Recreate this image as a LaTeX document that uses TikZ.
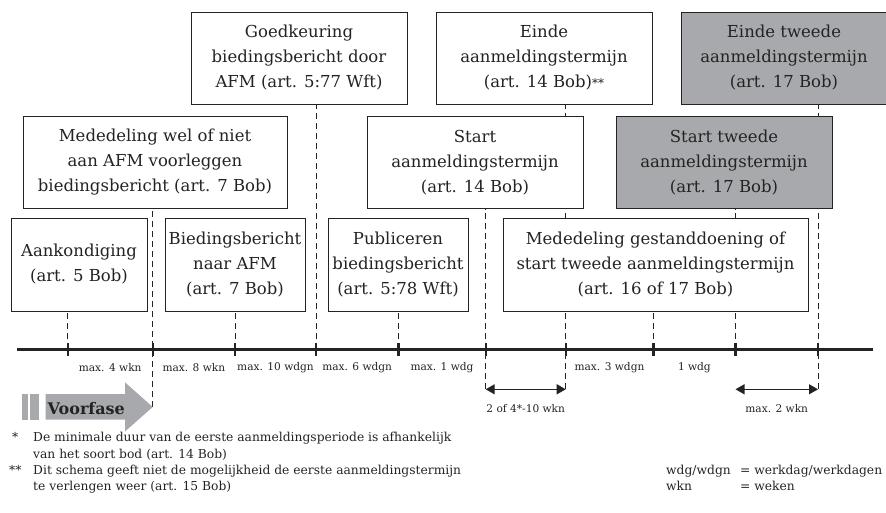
\documentclass[tikz,border=0pt]{standalone}
\usepackage{fontspec}
\setmainfont{DejaVu Serif}
\usetikzlibrary{arrows.meta,positioning,backgrounds}

\definecolor{boxgray}{RGB}{167,169,172}
\definecolor{inkgray}{RGB}{35,35,35}

\tikzset{
  event/.style={draw=inkgray, line width=0.9pt, fill=white, align=center, inner sep=0pt,
    text=inkgray, font=\fontsize{16.5}{25}\selectfont},
  secondevent/.style={event, fill=boxgray},
  guide/.style={inkgray, line width=0.9pt, dash pattern=on 6pt off 4pt},
  tickmark/.style={inkgray, line width=2.4pt},
  period/.style={text=inkgray, inner sep=0pt, font=\fontsize{10.6}{13}\selectfont},
  spanarrow/.style={inkgray, line width=1.2pt, {Triangle[length=9pt,width=10pt]}-{Triangle[length=9pt,width=10pt]}},
  note/.style={text=inkgray, inner sep=0pt, anchor=base west, font=\fontsize{12.3}{16}\selectfont},
  phase/.style={text=inkgray, inner sep=0pt, anchor=base west, font=\fontsize{16}{18}\selectfont\bfseries},
}

\begin{document}
\begin{tikzpicture}[x=1pt,y=-1pt]
\useasboundingbox (0,0) rectangle (886,513);

% tijdlijn
\foreach \tname/\tx in {t1/67.7,t2/152.7,t3/235,t4/316,t5/398.3,t6/485.7,t7/565.7,t8/653.3,t9/735.5,t10/818}
  \coordinate (\tname) at (\tx,349.3);
\coordinate (tlstart) at (16.7,349.3);
\coordinate (tlend) at (873.3,349.3);
\coordinate (voortip) at (152.7,407);
\coordinate (spanaa) at ([yshift=-40pt]t6);
\coordinate (spanab) at ([yshift=-40pt]t7);
\coordinate (spanba) at ([yshift=-40pt]t9);
\coordinate (spanbb) at ([yshift=-40pt]t10);

% bovenste rij
\node[event, minimum width=216, minimum height=92] (goedkeuring) at (299,58)
  {Goedkeuring\\biedingsbericht door\\AFM (art. 5:77 Wft)};
\node[event, minimum width=216, minimum height=92] (einde) at (544,58)
  {Einde\\aanmeldingstermijn\\(art. 14 Bob){\fontsize{12}{12}\selectfont**}};
\node[secondevent, minimum width=206, minimum height=92] (eindetweede) at (784,58)
  {Einde tweede\\aanmeldingstermijn\\(art. 17 Bob)};

% middelste rij
\node[event, minimum width=264, minimum height=92] (mededeling) at (155,162.5)
  {Mededeling wel of niet\\aan AFM voorleggen\\biedingsbericht (art. 7 Bob)};
\node[event, minimum width=216, minimum height=92] (startaanm) at (475,162.5)
  {Start\\aanmeldingstermijn\\(art. 14 Bob)};
\node[secondevent, minimum width=216, minimum height=92] (starttweede) at (724,162.5)
  {Start tweede\\aanmeldingstermijn\\(art. 17 Bob)};

% onderste rij
\node[event, minimum width=136, minimum height=93] (aankondiging) at (79,264.5)
  {Aankondiging\\(art. 5 Bob)};
\node[event, minimum width=140, minimum height=93] (naarafm) at (235,264.5)
  {Biedingsbericht\\naar AFM\\(art. 7 Bob)};
\node[event, minimum width=140, minimum height=93] (publiceren) at (398,264.5)
  {Publiceren\\biedingsbericht\\(art. 5:78 Wft)};
\node[event, minimum width=305, minimum height=93] (gestand) at (655.5,264.5)
  {Mededeling gestanddoening of\\start tweede aanmeldingstermijn\\(art. 16 of 17 Bob)};

% stippellijnen achter de blokken
\begin{scope}[on background layer]
\draw[guide] (t1) -- (t1 |- aankondiging.south);
\draw[guide] (voortip) -- (t2 |- mededeling.south);
\draw[guide] (t3) -- (t3 |- naarafm.south);
\draw[guide] (t4) -- (t4 |- goedkeuring.south);
\draw[guide] (t5) -- (t5 |- publiceren.south);
\draw[guide] (spanaa) -- (t6 |- startaanm.south);
\draw[guide] (spanab) -- (t7 |- einde.south);
\draw[guide] (t8) -- (t8 |- gestand.south);
\draw[guide] (t9) -- (t9 |- starttweede.south);
\draw[guide] (spanbb) -- (t10 |- eindetweede.south);
\end{scope}

\draw[inkgray, line width=2.6pt] (tlstart) -- (tlend);
\foreach \t in {t1,t2,t3,t4,t5,t6,t7,t8,t9,t10}
  \draw[tickmark] ([yshift=6.5pt]\t) -- ([yshift=-6.5pt]\t);

% termijnen
\foreach \a/\b/\txt in {t1/t2/max. 4 wkn, t2/t3/max. 8 wkn, t3/t4/max. 10 wdgn,
    t4/t5/max. 6 wdgn, t5/t6/max. 1 wdg, t7/t8/max. 3 wdgn, t8/t9/1 wdg}
  \path (\a) -- (\b) node[period, midway, yshift=-18.4pt] (lab\a) {\txt};

\draw[spanarrow] (spanaa) -- (spanab) node[period, midway, yshift=-19pt] (spanlabela) {2 of 4*-10 wkn};
\draw[spanarrow] (spanba) -- (spanbb) node[period, midway, yshift=-19pt] (spanlabelb) {max. 2 wkn};

% voorfase
\fill[boxgray] (22.3,394) rectangle (27.7,419.7);
\fill[boxgray] (30,394) rectangle (39,419.7);
\fill[boxgray] (45.7,394) -- (125,394) -- (125,382.3) -- (voortip) -- (125,431.5)
  -- (125,419.7) -- (45.7,419.7) -- cycle;
\node[phase] (voorfase) at (47.5,414) {Voorfase};

% voetnoten
\node[note] (sterone) at (12,441.5) {*};
\node[note] (noteonea) at (33,441.5) {De minimale duur van de eerste aanmeldingsperiode is afhankelijk};
\node[note] (noteoneb) at (33,458) {van het soort bod (art. 14 Bob)};
\node[note] (stertwo) at (9,474) {**};
\node[note] (notetwoa) at (33,474) {Dit schema geeft niet de mogelijkheid de eerste aanmeldingstermijn};
\node[note] (notetwob) at (33,490.5) {te verlengen weer (art. 15 Bob)};
\node[note] (abbrwdg) at (666,474) {wdg/wdgn};
\node[note] (abbrwdgtxt) at (740,474) {= werkdag/werkdagen};
\node[note] (abbrwkn) at (666,490.5) {wkn};
\node[note] (abbrwkntxt) at (740,490.5) {= weken};
\end{tikzpicture}
\end{document}
